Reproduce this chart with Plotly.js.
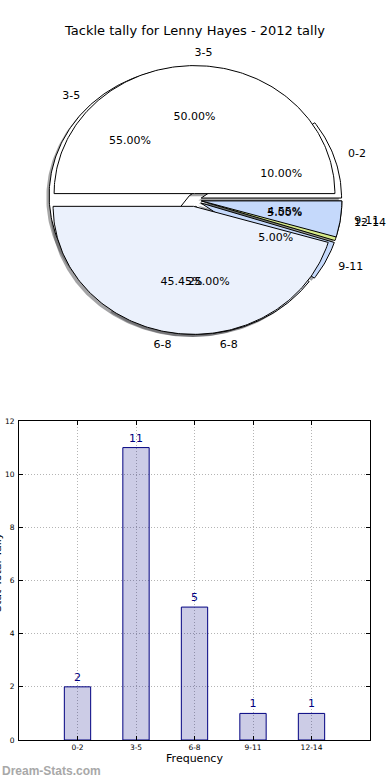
<!DOCTYPE html>
<html>
<head>
<meta charset="utf-8">
<script src="https://cdn.plot.ly/plotly-3.0.1.min.js"></script>
<style>html,body{margin:0;padding:0;background:#fff;}#chart{width:390px;height:780px;}</style>
</head>
<body>
<div id="chart"></div>
<script>
// ---- data ----
const chartTitle = 'Tackle tally for Lenny Hayes - 2012 tally';
const pieLabels1 = ['0-2', '3-5', '6-8', '9-11', '12-14'];
const pieValues1 = [2, 11, 5, 1, 1];
const pieLabels2 = ['3-5', '6-8', '9-11'];
const pieValues2 = [11, 10, 1];
const barCategories = ['0-2', '3-5', '6-8', '9-11', '12-14'];
const barValues = [2, 11, 5, 1, 1];
const yTickValues = [0, 2, 4, 6, 8, 10, 12];

// ---- styles ----
const sliceColors = {'0-2': '#ffffff', '3-5': '#ffffff', '6-8': '#ebf1fc', '9-11': '#c5d9fb', '12-14': '#d6ea8a'};
const explode = 0.05;
const FONT = 'DejaVu Sans, sans-serif';

function hexToRgb(h) {
  return [parseInt(h.slice(1,3),16), parseInt(h.slice(3,5),16), parseInt(h.slice(5,7),16)];
}

function buildPie(labels, values) {
  const total = values.reduce((a, b) => a + b, 0);
  const wedges = [], shadows = [];
  const lab = {x: [], y: [], text: [], pos: []};
  const pct = {x: [], y: [], text: []};
  let acc = 0;
  labels.forEach((l, i) => {
    const t1 = acc / total * 2 * Math.PI;
    acc += values[i];
    const t2 = acc / total * 2 * Math.PI;
    const tm = (t1 + t2) / 2;
    const ox = explode * Math.cos(tm), oy = explode * Math.sin(tm);
    const xs = [ox], ys = [oy];
    const n = Math.max(4, Math.ceil((t2 - t1) / (Math.PI / 180)));
    for (let k = 0; k <= n; k++) {
      const t = t1 + (t2 - t1) * k / n;
      xs.push(ox + Math.cos(t));
      ys.push(oy + Math.sin(t));
    }
    xs.push(ox); ys.push(oy);
    wedges.push({type: 'scatter', mode: 'lines', x: xs, y: ys, fill: 'toself',
      fillcolor: sliceColors[l], line: {color: '#000', width: 1}, hoverinfo: 'skip',
      xaxis: 'x', yaxis: 'y'});
    const rgb = hexToRgb(sliceColors[l]).map(c => Math.round(c * 0.3));
    shadows.push({type: 'scatter', mode: 'lines', x: xs.map(v => v - 0.02), y: ys.map(v => v - 0.02),
      fill: 'toself', fillcolor: 'rgba(' + rgb.join(',') + ',0.5)', line: {width: 0, color: 'rgba(0,0,0,0)'},
      hoverinfo: 'skip', xaxis: 'x', yaxis: 'y'});
    const lx = ox + 1.1 * Math.cos(tm), ly = oy + 1.1 * Math.sin(tm);
    lab.x.push(lx); lab.y.push(ly); lab.text.push(l);
    lab.pos.push(lx > 0 ? 'middle right' : 'middle left');
    pct.x.push(ox + 0.6 * Math.cos(tm)); pct.y.push(oy + 0.6 * Math.sin(tm));
    pct.text.push((values[i] / total * 100).toFixed(2) + '%');
  });
  const textTraces = [
    {type: 'scatter', mode: 'text', x: lab.x, y: lab.y, text: lab.text, textposition: lab.pos,
      textfont: {family: FONT, size: 11, color: '#000'}, hoverinfo: 'skip', cliponaxis: false, xaxis: 'x', yaxis: 'y'},
    {type: 'scatter', mode: 'text', x: pct.x, y: pct.y, text: pct.text, textposition: 'middle center',
      textfont: {family: FONT, size: 11, color: '#000'}, hoverinfo: 'skip', cliponaxis: false, xaxis: 'x', yaxis: 'y'}
  ];
  return {wedges, shadows, textTraces};
}

const p1 = buildPie(pieLabels1, pieValues1);
const p2 = buildPie(pieLabels2, pieValues2);

const barTrace = {
  type: 'bar', x: barCategories, y: barValues, width: 0.45,
  marker: {color: 'rgba(0,0,128,0.2)', line: {color: '#000080', width: 1}},
  text: barValues.map(String), textposition: 'outside', cliponaxis: false,
  textfont: {family: FONT, size: 11, color: '#000080'},
  hoverinfo: 'skip', xaxis: 'x2', yaxis: 'y2'
};

const data = [].concat(p1.shadows, p2.shadows, p1.wedges, p2.wedges, p1.textTraces, p2.textTraces, [barTrace]);

const W = 390, H = 780;
const layout = {
  width: W, height: H,
  margin: {l: 0, r: 0, t: 0, b: 0},
  paper_bgcolor: '#fff', plot_bgcolor: '#fff',
  showlegend: false,
  font: {family: FONT, color: '#000'},
  title: {text: chartTitle, font: {family: FONT, size: 13, color: '#000'}, x: 0.5, xanchor: 'center',
    y: 1 - 30 / H, yanchor: 'middle', xref: 'paper', yref: 'paper'},
  xaxis: {domain: [19 / W, 370 / W], range: [-1.25, 1.25], visible: false, fixedrange: true},
  yaxis: {domain: [1 - 360 / H, 1 - 40 / H], range: [-1.25, 1.25], visible: false, fixedrange: true, anchor: 'x'},
  xaxis2: {domain: [19 / W, 370 / W], anchor: 'y2', type: 'category', range: [-1, 5],
    showline: true, linecolor: '#000', linewidth: 1, mirror: 'allticks',
    ticks: 'inside', ticklen: 4, tickcolor: '#000',
    showgrid: true, gridcolor: '#b4b4b4', griddash: '1px,2px', gridwidth: 1,
    tickfont: {family: FONT, size: 7.5, color: '#000'},
    title: {text: 'Frequency', font: {family: FONT, size: 11, color: '#000'}, standoff: 3},
    zeroline: false, fixedrange: true},
  yaxis2: {domain: [1 - 740 / H, 1 - 421 / H], anchor: 'x2', range: [0, 12], tickvals: yTickValues,
    showline: true, linecolor: '#000', linewidth: 1, mirror: 'allticks',
    ticks: 'inside', ticklen: 4, tickcolor: '#000',
    showgrid: true, gridcolor: '#b4b4b4', griddash: '1px,2px', gridwidth: 1,
    tickfont: {family: FONT, size: 7.5, color: '#000'}, ticklabelstandoff: 2,
    zeroline: false, fixedrange: true},
  annotations: [
    {text: 'Stat Total Tally', textangle: -90, xref: 'paper', yref: 'paper', x: -3 / W, y: 1 - 572 / H,
      xanchor: 'center', yanchor: 'middle', showarrow: false, font: {family: FONT, size: 11, color: '#000'}},
    {text: '<b>Dream-Stats.com</b>', xref: 'paper', yref: 'paper', x: 0, y: 1 - 771 / H,
      xanchor: 'left', yanchor: 'middle', showarrow: false,
      font: {family: 'Liberation Sans, Arial, sans-serif', size: 12, color: '#a8a8a8'}}
  ]
};

Plotly.newPlot('chart', data, layout, {staticPlot: true, displayModeBar: false});
</script>
</body>
</html>
